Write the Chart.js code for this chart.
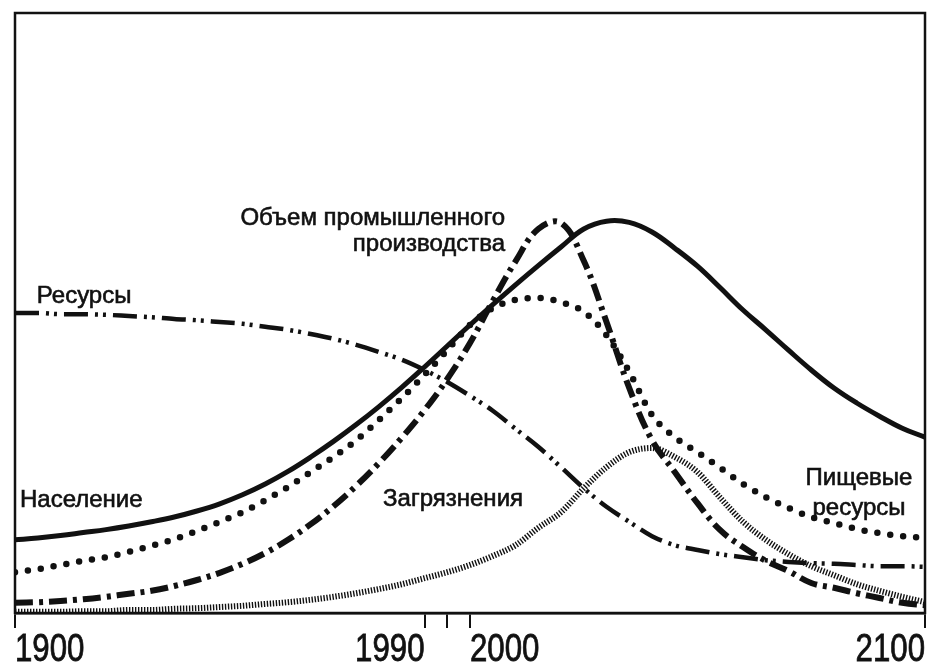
<!DOCTYPE html>
<html>
<head>
<meta charset="utf-8">
<script src="https://cdn.jsdelivr.net/npm/chart.js@4.4.1/dist/chart.umd.min.js"></script>
<style>
  body { margin: 0; background: #fff; }
  canvas { display: block; }
</style>
</head>
<body>
<canvas id="worldChart" width="931" height="667"></canvas>
<script>
// years sampled every 5 years, 1900..2100
const years = [];
for (let y = 1900; y <= 2100; y += 5) years.push(y);

// relative levels (0 = bottom of frame, 100 = top)
const population = [12.2, 12.5, 12.9, 13.4, 13.9, 14.5, 15.2, 16.0, 17.0, 18.2,
  19.7, 21.5, 23.6, 26.0, 28.6, 31.4, 34.4, 37.6, 41.0, 44.5,
  48.0, 51.4, 54.7, 57.9, 61.0, 64.0, 65.3, 65.1, 63.5, 60.8,
  57.8, 54.2, 50.5, 47.2, 43.8, 40.5, 37.5, 35.0, 32.8, 30.8, 29.3];
const food = [6.8, 7.3, 8.0, 8.7, 9.3, 10.2, 11.2, 12.3, 13.7, 15.2,
  16.8, 18.8, 21.0, 23.5, 26.0, 28.8, 32.2, 35.8, 39.7, 43.8,
  48.0, 50.8, 52.2, 52.5, 51.8, 50.2, 46.3, 40.2, 33.0, 29.3,
  26.8, 24.2, 21.5, 19.3, 17.5, 16.0, 15.0, 14.0, 13.3, 12.8, 12.5];
const industry = [1.7, 1.8, 2.0, 2.3, 2.7, 3.2, 3.7, 4.5, 5.5, 6.7,
  8.2, 10.0, 12.2, 14.8, 17.8, 21.2, 25.0, 29.2, 33.8, 39.0,
  45.0, 52.0, 58.6, 64.0, 65.0, 58.7, 48.5, 37.5, 28.8, 23.5,
  18.3, 13.8, 11.0, 8.7, 7.0, 5.0, 4.2, 3.3, 2.5, 1.7, 1.3];
const resources = [50.0, 50.0, 49.8, 49.8, 49.7, 49.5, 49.3, 49.0, 48.8, 48.5,
  48.2, 47.7, 47.2, 46.5, 45.7, 44.7, 43.5, 42.2, 40.5, 38.5,
  36.2, 33.7, 30.7, 27.7, 24.3, 20.8, 17.7, 15.2, 12.8, 11.3,
  10.5, 9.8, 9.3, 8.8, 8.5, 8.3, 8.2, 8.0, 7.8, 7.8, 7.7];
const pollution = [0.2, 0.2, 0.2, 0.3, 0.3, 0.5, 0.5, 0.7, 0.8, 1.0,
  1.2, 1.5, 1.8, 2.2, 2.7, 3.3, 4.0, 4.8, 5.8, 6.8,
  8.0, 9.5, 11.3, 14.2, 16.8, 20.8, 24.3, 26.8, 27.5, 26.0,
  23.5, 19.2, 15.2, 12.2, 9.8, 7.8, 6.3, 4.8, 3.7, 2.7, 1.8];

const tickYears = [1900, 1990, 1995, 2000, 2100];
const tickLabels = { 1900: '1900', 1990: '1990', 2000: '2000', 2100: '2100' };

const pts = arr => arr.map((v, i) => ({ x: years[i], y: v }));

const ink = '#111';

// frame around the plot area
const framePlugin = {
  id: 'frame',
  beforeDatasetsDraw(chart) {
    const a = chart.chartArea, ctx = chart.ctx;
    ctx.save();
    ctx.strokeStyle = ink;
    ctx.lineWidth = 2.5;
    ctx.strokeRect(a.left, a.top, a.right - a.left, a.bottom - a.top);
    ctx.restore();
  }
};

// year labels under the axis, narrow and aligned to their ticks
const yearLabelPlugin = {
  id: 'yearLabels',
  afterDraw(chart) {
    const sx = chart.scales.x, ctx = chart.ctx;
    const align = { 1900: 'left', 1990: 'right', 2000: 'left', 2100: 'right' };
    ctx.save();
    ctx.fillStyle = ink;
    ctx.strokeStyle = ink;
    ctx.lineWidth = 0.8;
    ctx.font = '39px "Liberation Sans", Arial, sans-serif';
    ctx.textBaseline = 'alphabetic';
    Object.keys(tickLabels).forEach(k => {
      const x = sx.getPixelForValue(+k);
      ctx.save();
      ctx.translate(x, 661);
      ctx.scale(0.8, 1);
      ctx.textAlign = align[k];
      ctx.fillText(tickLabels[k], 0, 0);
      ctx.strokeText(tickLabels[k], 0, 0);
      ctx.restore();
    });
    ctx.restore();
  }
};

// curve names written inside the frame
const notePlugin = {
  id: 'notes',
  afterDatasetsDraw(chart) {
    const sx = chart.scales.x, sy = chart.scales.y, ctx = chart.ctx;
    const notes = [
      { t: 'Ресурсы', x: 1904.8, y: 51.7, a: 'left' },
      { t: 'Население', x: 1901.1, y: 17.7, a: 'left' },
      { t: 'Загрязнения', x: 1980.9, y: 17.9, a: 'left' },
      { t: 'Объем промышленного', x: 2007.7, y: 64.6, a: 'right' },
      { t: 'производства', x: 2007.7, y: 60.3, a: 'right' },
      { t: 'Пищевые', x: 2085.5, y: 21.3, a: 'center' },
      { t: 'ресурсы', x: 2085.5, y: 16.3, a: 'center' }
    ];
    ctx.save();
    ctx.fillStyle = ink;
    ctx.strokeStyle = ink;
    ctx.lineWidth = 0.6;
    ctx.font = '24px "Liberation Sans", Arial, sans-serif';
    ctx.textBaseline = 'alphabetic';
    notes.forEach(n => {
      const x = sx.getPixelForValue(n.x), y = sy.getPixelForValue(n.y);
      ctx.textAlign = n.a;
      ctx.fillText(n.t, x, y);
      ctx.strokeText(n.t, x, y);
    });
    ctx.restore();
  }
};

const ctx = document.getElementById('worldChart').getContext('2d');
new Chart(ctx, {
  type: 'line',
  data: {
    datasets: [
      {
        label: 'Население',
        data: pts(population),
        borderColor: ink,
        borderWidth: 5,
        borderCapStyle: 'round',
        cubicInterpolationMode: 'default',
        tension: 0.4
      },
      {
        label: 'Объем промышленного производства',
        data: pts(industry),
        borderColor: ink,
        borderWidth: 6,
        borderDash: [18, 6, 4, 6],
        cubicInterpolationMode: 'default',
        tension: 0.4
      },
      {
        label: 'Пищевые ресурсы',
        data: pts(food),
        borderColor: ink,
        borderWidth: 6.5,
        borderCapStyle: 'round',
        borderDash: [0, 13]
      },
      {
        label: 'Ресурсы',
        data: pts(resources),
        borderColor: ink,
        borderWidth: 4.5,
        borderDash: [24, 7, 3, 5, 3, 7]
      },
      {
        label: 'Загрязнения',
        data: pts(pollution),
        borderColor: ink,
        borderWidth: 6,
        borderDash: [1.4, 1.6]
      }
    ]
  },
  options: {
    responsive: false,
    animation: false,
    events: [],
    layout: { padding: { left: 15, right: 6, top: 13, bottom: 0 } },
    elements: {
      point: { radius: 0 },
      line: { cubicInterpolationMode: 'monotone', fill: false }
    },
    plugins: {
      legend: { display: false },
      tooltip: { enabled: false }
    },
    scales: {
      x: {
        type: 'linear',
        min: 1900,
        max: 2100,
        afterBuildTicks: s => { s.ticks = tickYears.map(v => ({ value: v })); },
        afterFit: s => { s.height = 54; },
        ticks: { display: false },
        grid: { drawOnChartArea: false, drawTicks: true, tickLength: 15, lineWidth: 2, color: ink },
        border: { display: true, color: ink, width: 2.5 }
      },
      y: {
        display: false,
        min: 0,
        max: 100
      }
    }
  },
  plugins: [framePlugin, notePlugin, yearLabelPlugin]
});
</script>
</body>
</html>
